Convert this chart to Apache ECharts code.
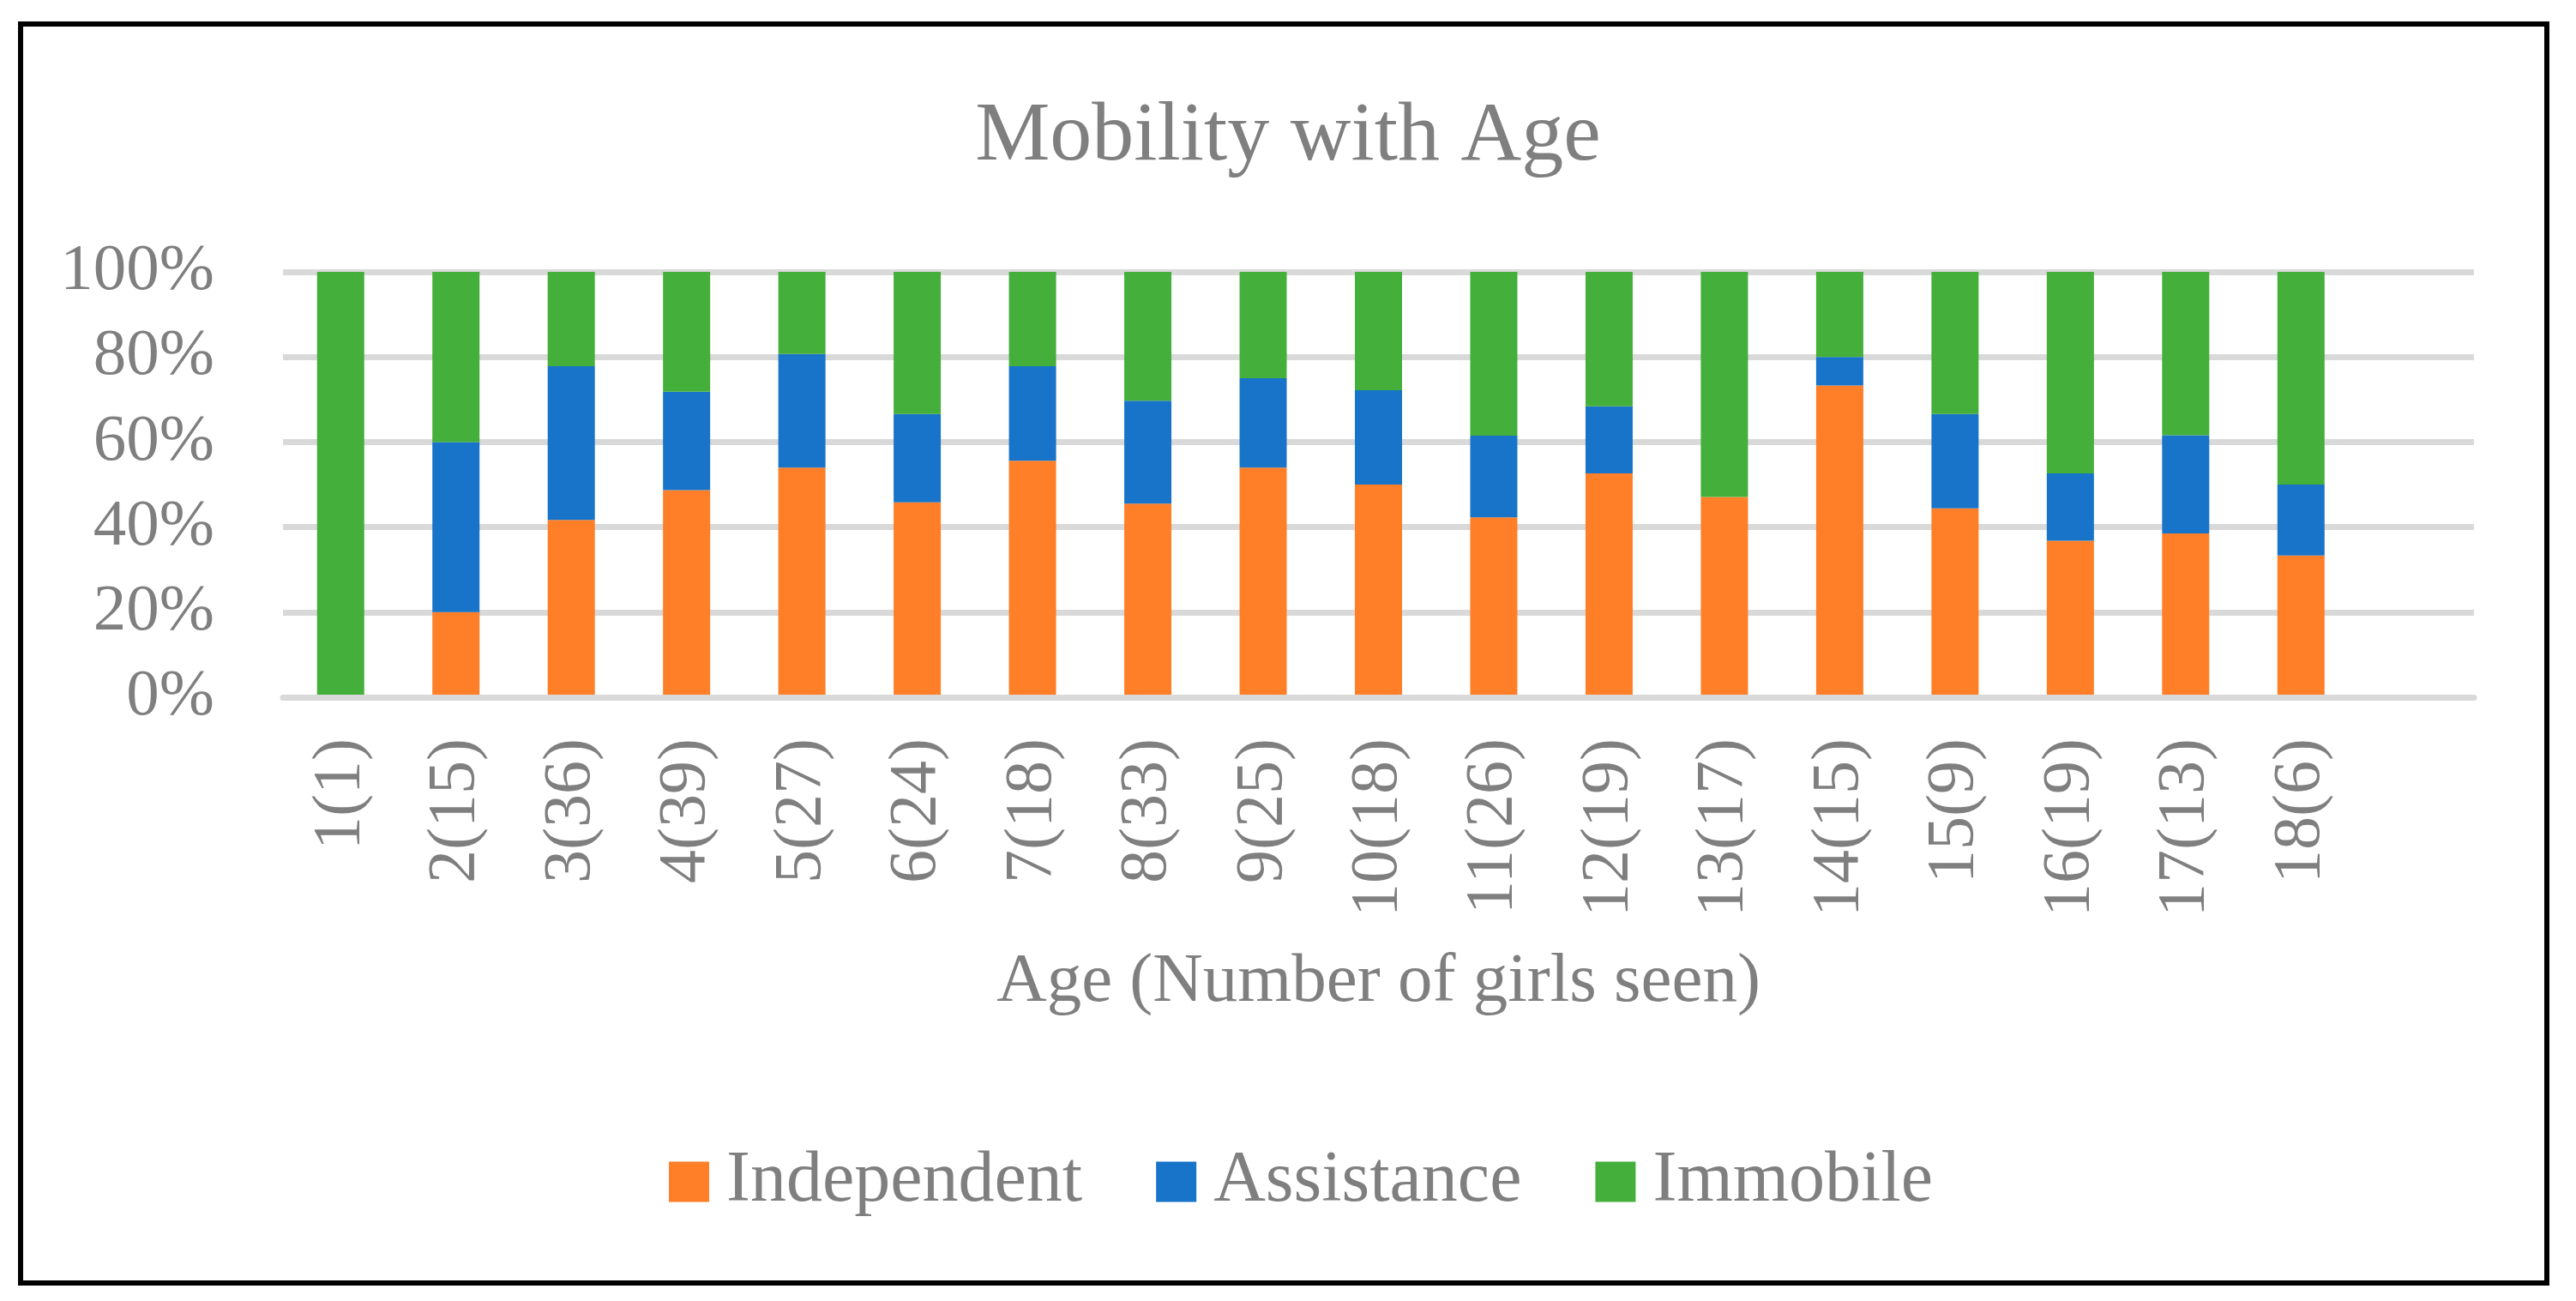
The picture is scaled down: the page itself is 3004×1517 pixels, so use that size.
<!DOCTYPE html>
<html>
<head>
<meta charset="utf-8">
<script src="https://cdn.jsdelivr.net/npm/echarts@6/dist/echarts.min.js"></script>
<style>html,body{margin:0;padding:0;background:#fff;}#c{width:3004px;height:1517px;}</style>
</head>
<body>
<div id="c"></div>
<script>
const categories = ['1(1)','2(15)','3(36)','4(39)','5(27)','6(24)','7(18)','8(33)','9(25)','10(18)','11(26)','12(19)','13(17)','14(15)','15(9)','16(19)','17(13)','18(6)',''];
const independent = [0, 20, 41.7, 48.7, 54.0, 45.8, 55.6, 45.5, 54.0, 50.0, 42.3, 52.6, 47.1, 73.3, 44.4, 36.8, 38.5, 33.3, null];
const assistance  = [0, 40, 36.1, 23.1, 26.7, 20.8, 22.2, 24.2, 21.0, 22.2, 19.2, 15.8, 0, 6.7, 22.2, 15.8, 23.1, 16.7, null];
const immobile    = [100, 40, 22.2, 28.2, 19.3, 33.4, 22.2, 30.3, 25.0, 27.8, 38.5, 31.6, 52.9, 20.0, 33.4, 47.4, 38.4, 50.0, null];
const yTicks = [0, 20, 40, 60, 80, 100];

const FONT = '"Liberation Serif", "DejaVu Serif", serif';
const GRAY = '#7f7f7f';
const chart = echarts.init(document.getElementById('c'), null, {renderer: 'canvas'});
chart.setOption({
  backgroundColor: '#ffffff',
  animation: false,
  title: {
    text: 'Mobility with Age',
    left: 'center',
    top: 106,
    textStyle: {fontFamily: FONT, fontSize: 98, fontWeight: 'normal', color: GRAY}
  },
  legend: {
    left: 775,
    top: 1331,
    itemWidth: 47,
    itemHeight: 47,
    itemGap: 86,
    icon: 'rect',
    textStyle: {fontFamily: FONT, fontSize: 84, color: GRAY, lineHeight: 81, padding: [0, 0, 0, 15]},
    data: ['Independent', 'Assistance', 'Immobile']
  },
  grid: {left: 330, right: 119, top: 317, bottom: 704, containLabel: false, outerBoundsMode: 'none'},
  xAxis: {
    type: 'category',
    data: categories,
    z: 10,
    axisTick: {show: false},
    axisLine: {lineStyle: {color: '#d9d9d9', width: 7}},
    axisLabel: {rotate: 90, margin: 48, interval: 0, fontFamily: FONT, fontSize: 78, color: GRAY},
    name: 'Age (Number of girls seen)',
    nameLocation: 'middle',
    nameGap: 292,
    nameTextStyle: {fontFamily: FONT, fontSize: 81, color: GRAY}
  },
  yAxis: {
    type: 'value',
    min: yTicks[0],
    max: yTicks[yTicks.length - 1],
    interval: 20,
    axisLine: {show: false},
    axisTick: {show: false},
    splitLine: {lineStyle: {color: '#d9d9d9', width: 7}},
    axisLabel: {formatter: '{value}%', margin: 80, fontFamily: FONT, fontSize: 77, color: GRAY}
  },
  graphic: [{
    type: 'rect',
    shape: {x: 24, y: 28, width: 2946, height: 1468},
    style: {fill: 'none', stroke: '#000', lineWidth: 6},
    silent: true,
    z: 100
  }],
  series: [
    {name: 'Independent', type: 'bar', stack: 'all', barWidth: 55, data: independent, itemStyle: {color: '#fe7f27'}},
    {name: 'Assistance', type: 'bar', stack: 'all', barWidth: 55, data: assistance, itemStyle: {color: '#1874c8'}},
    {name: 'Immobile', type: 'bar', stack: 'all', barWidth: 55, data: immobile, itemStyle: {color: '#44af3a'}}
  ]
});
</script>
</body>
</html>
